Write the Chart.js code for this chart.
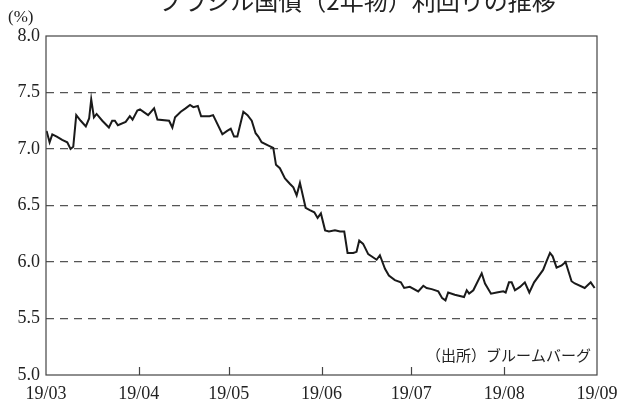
<!DOCTYPE html>
<html>
<head>
    <meta charset="utf-8">
    <title>ブラジル国債（2年物）利回りの推移</title>
    <script src="https://cdn.jsdelivr.net/npm/chart.js"></script>
    <style>
        html, body { margin: 0; padding: 0; background: #fff; }
        #wrap { width: 626px; height: 403px; position: relative; }
    </style>
</head>
<body>
    <div id="wrap">
        <canvas id="chart"></canvas>
    </div>

    <script>
        // 日数（3月1日からの経過日）と利回り（%）
        var days = [
            0.2, 1.2, 2.1, 3.6, 5.4, 7.1, 8.2, 9.1, 10.1, 11.6,
            13.3, 14.4, 15.1, 16.0, 16.9, 18.8, 21.0, 22.1, 23.0, 24.0,
            26.6, 28.0, 28.9, 30.5, 31.4, 34.1, 36.1, 37.2, 41.1, 42.2,
            43.1, 45.0, 46.6, 48.1, 49.2, 50.7, 51.8, 54.6, 55.8, 58.9,
            60.5, 61.7, 62.8, 63.9, 65.9, 67.3, 68.7, 70.0, 70.9, 72.0,
            74.3, 75.9, 76.8, 78.1, 79.8, 81.5, 82.6, 83.7, 84.8, 86.7,
            88.1, 89.6, 90.7, 91.8, 93.2, 94.5, 96.5, 98.2, 99.6, 100.7,
            102.6, 103.7, 104.6, 105.9, 107.6, 109.3, 110.4, 111.5, 113.2, 114.5,
            116.5, 118.5, 119.6, 121.5, 124.3, 126.0, 127.1, 128.8, 131.0, 132.3,
            133.4, 134.3, 136.5, 139.6, 140.5, 141.3, 142.7, 145.5, 146.6, 148.6,
            150.5, 152.7, 153.5, 154.6, 155.5, 156.6, 158.3, 159.9, 161.4, 163.0,
            166.0, 167.2, 168.3, 169.2, 170.5, 172.2, 173.5, 175.5, 176.6, 179.9,
            181.9, 183.2
        ];
        var yields = [
            7.16, 7.06, 7.13, 7.11, 7.08, 7.06, 7.00, 7.02, 7.30, 7.25,
            7.20, 7.27, 7.44, 7.28, 7.31, 7.25, 7.19, 7.25, 7.25, 7.21,
            7.24, 7.29, 7.26, 7.34, 7.35, 7.30, 7.36, 7.26, 7.25, 7.19,
            7.28, 7.33, 7.36, 7.39, 7.37, 7.38, 7.29, 7.29, 7.30, 7.13,
            7.16, 7.18, 7.11, 7.11, 7.33, 7.30, 7.25, 7.14, 7.11, 7.06,
            7.03, 7.01, 6.86, 6.83, 6.74, 6.69, 6.66, 6.59, 6.70, 6.48,
            6.46, 6.44, 6.39, 6.43, 6.28, 6.27, 6.28, 6.27, 6.27, 6.08,
            6.08, 6.09, 6.19, 6.16, 6.07, 6.04, 6.02, 6.06, 5.94, 5.88,
            5.84, 5.82, 5.77, 5.78, 5.74, 5.79, 5.77, 5.76, 5.74, 5.68,
            5.66, 5.73, 5.71, 5.69, 5.75, 5.72, 5.75, 5.90, 5.81, 5.72,
            5.73, 5.74, 5.73, 5.82, 5.82, 5.75, 5.78, 5.82, 5.73, 5.82,
            5.93, 6.01, 6.08, 6.05, 5.95, 5.97, 6.00, 5.83, 5.81, 5.77,
            5.82, 5.77
        ];
        // 月の区切り（3月1日からの日数）と目盛りラベル
        var monthDays = [0, 31, 61, 92, 122, 153, 184];
        var monthLabels = ["19/03", "19/04", "19/05", "19/06", "19/07", "19/08", "19/09"];
        var yTicks = [5.0, 5.5, 6.0, 6.5, 7.0, 7.5, 8.0];

        var points = days.map(function(d, i) { return { x: d, y: yields[i] }; });

        var frameAndText = {
            id: "frameAndText",
            afterDraw: function(chart) {
                var ctx = chart.ctx;
                var a = chart.chartArea;
                var xs = chart.scales.x;
                ctx.save();
                // 枠線
                ctx.strokeStyle = "#444";
                ctx.lineWidth = 1.2;
                ctx.setLineDash([]);
                ctx.strokeRect(a.left, a.top, a.right - a.left, a.bottom - a.top);
                // 月の目盛り（内向き）
                for (var i = 1; i < monthDays.length - 1; i++) {
                    var px = Math.round(xs.getPixelForValue(monthDays[i])) + 0.5;
                    ctx.beginPath();
                    ctx.moveTo(px, a.bottom);
                    ctx.lineTo(px, a.bottom - 8);
                    ctx.stroke();
                }
                // タイトル（上が切れている）
                ctx.fillStyle = "#222";
                ctx.textAlign = "center";
                ctx.textBaseline = "alphabetic";
                ctx.font = "24px 'Noto Sans CJK JP'";
                ctx.fillText("ブラジル国債（2年物）利回りの推移", 357, 10);
                // 単位
                ctx.textAlign = "left";
                ctx.textBaseline = "middle";
                ctx.font = "17px 'Liberation Serif'";
                ctx.fillText("(%)", 8, 18);
                // 出所
                ctx.textAlign = "right";
                ctx.font = "15px 'Noto Sans CJK JP'";
                ctx.fillText("（出所）ブルームバーグ", 591, 355);
                ctx.restore();
            }
        };

        new Chart(document.getElementById("chart"), {
            type: "line",
            data: {
                datasets: [{
                    data: points,
                    borderColor: "#1a1a1a",
                    borderWidth: 2,
                    pointRadius: 0,
                    tension: 0,
                    fill: false
                }]
            },
            options: {
                responsive: true,
                maintainAspectRatio: false,
                animation: false,
                layout: { padding: { top: 36, right: 29, left: 0, bottom: 0 } },
                plugins: {
                    legend: { display: false },
                    tooltip: { enabled: false }
                },
                scales: {
                    x: {
                        type: "linear",
                        min: 0,
                        max: 184,
                        afterBuildTicks: function(scale) {
                            scale.ticks = monthDays.map(function(d) { return { value: d }; });
                        },
                        afterFit: function(scale) { scale.height = 28; },
                        grid: { display: false, drawTicks: false },
                        border: { display: false },
                        ticks: {
                            autoSkip: false,
                            maxRotation: 0,
                            padding: 8,
                            color: "#222",
                            font: { family: "'Liberation Serif'", size: 18 },
                            callback: function(value) {
                                var i = monthDays.indexOf(value);
                                return i >= 0 ? monthLabels[i] : "";
                            }
                        }
                    },
                    y: {
                        min: 5.0,
                        max: 8.0,
                        afterBuildTicks: function(scale) {
                            scale.ticks = yTicks.map(function(v) { return { value: v }; });
                        },
                        afterFit: function(scale) { scale.width = 46; },
                        grid: {
                            drawTicks: false,
                            lineWidth: 1.2,
                            color: function(c) {
                                var v = c.tick ? c.tick.value : null;
                                return (v === 5.0 || v === 8.0) ? "rgba(0,0,0,0)" : "#555";
                            }
                        },
                        border: { display: false, dash: [8, 6] },
                        ticks: {
                            padding: 6,
                            color: "#222",
                            font: { family: "'Liberation Serif'", size: 18 },
                            callback: function(value) { return value.toFixed(1); }
                        }
                    }
                }
            },
            plugins: [frameAndText]
        });
    </script>
</body>
</html>
